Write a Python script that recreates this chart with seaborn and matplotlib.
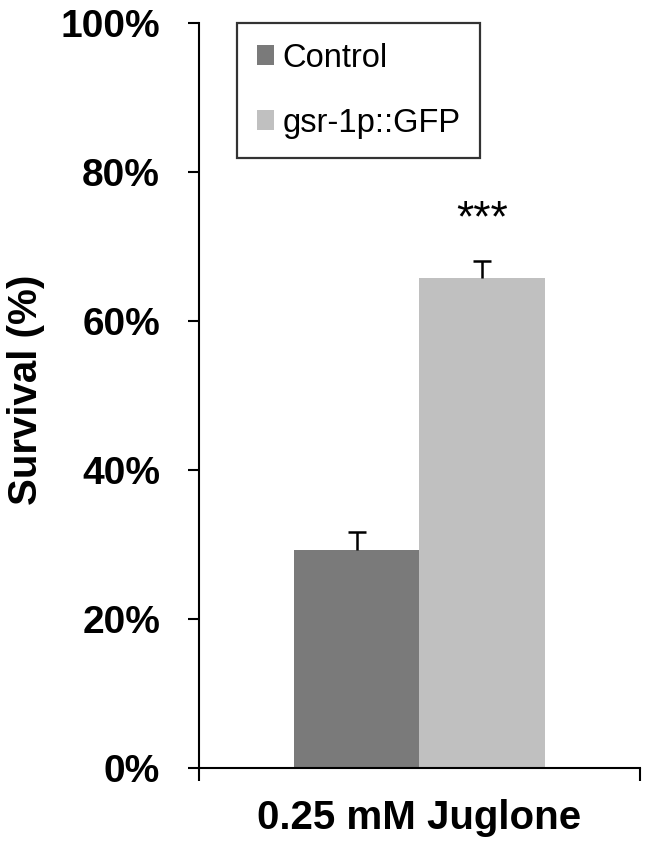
import matplotlib
matplotlib.use("Agg")
import matplotlib.pyplot as plt
import seaborn as sns
import pandas as pd
import numpy as np

categories = ["0.25 mM Juglone"]
groups = ["Control", "gsr-1p::GFP"]
survival = [29.3, 65.8]
errors = [2.4, 2.3]
significance = ["", "***"]
ytick_values = [0, 20, 40, 60, 80, 100]
ytick_labels = ["0%", "20%", "40%", "60%", "80%", "100%"]
colors = ["#7a7a7a", "#c0c0c0"]

sns.set_theme(style="white")
plt.rcParams["font.family"] = ["Liberation Sans", "DejaVu Sans"]
plt.rcParams["text.color"] = "black"
plt.rcParams["axes.labelcolor"] = "black"
plt.rcParams["xtick.color"] = "black"
plt.rcParams["ytick.color"] = "black"

df = pd.DataFrame({"cat": categories * len(groups), "group": groups, "val": survival})

fig = plt.figure(figsize=(6.51, 8.48), dpi=100)
ax = fig.add_axes([199 / 651, 1 - 768 / 848, 441 / 651, 745 / 848])

sns.barplot(data=df, x="cat", y="val", hue="group", palette=colors, width=0.571,
            ax=ax, errorbar=None, saturation=1, linewidth=0, legend=True)

# error bars (upper only, single top cap) and significance markers
bars = [p for p in ax.patches if p.get_height() > 0][:len(groups)]
for bar, v, e, s in zip(bars, survival, errors, significance):
    xc = bar.get_x() + bar.get_width() / 2
    ax.errorbar([xc], [v], yerr=[[0], [e]], fmt="none", ecolor="black",
                elinewidth=1.8, capsize=0)
    ax.plot([xc], [v + e], marker="_", markersize=13, markeredgewidth=1.8,
            color="black", linestyle="none")
    if s:
        ax.text(xc, v + e + 5.5, s, ha="center", va="center", fontsize=32, color="black")

ax.set_xlim(-0.5, 0.5)
ax.set_ylim(0, 100)
ax.set_yticks(ytick_values)
ax.set_yticklabels(ytick_labels, fontsize=28, fontweight="bold")
ax.tick_params(axis="y", direction="out", length=8, width=1.5, pad=20, left=True)

ax.set_xticks([0])
ax.set_xticklabels(categories, fontsize=29, fontweight="bold")
ax.tick_params(axis="x", which="major", length=0, pad=22)
ax.set_xticks([-0.5, 0.5], minor=True)
ax.tick_params(axis="x", which="minor", direction="out", length=9, width=1.5, bottom=True)
ax.set_xlabel("")
ax.set_ylabel("")

fig.text(26 / 651, 1 - 390 / 848, "Survival (%)", rotation=90, ha="center", va="center",
         fontsize=29, fontweight="bold", color="black")

for side in ["top", "right"]:
    ax.spines[side].set_visible(False)
for side in ["left", "bottom"]:
    ax.spines[side].set_color("black")
    ax.spines[side].set_linewidth(1.5)

leg = ax.legend(loc="upper left", bbox_to_anchor=(0.086, 1.0), fontsize=23.5,
                frameon=True, fancybox=False, edgecolor="black", borderaxespad=0,
                handlelength=0.55, handleheight=0.55, handletextpad=0.25,
                labelspacing=1.05, borderpad=0.6, title=None)
leg.get_frame().set_linewidth(1.6)
leg.set_title(None)

fig.savefig("out.png", dpi=100)
